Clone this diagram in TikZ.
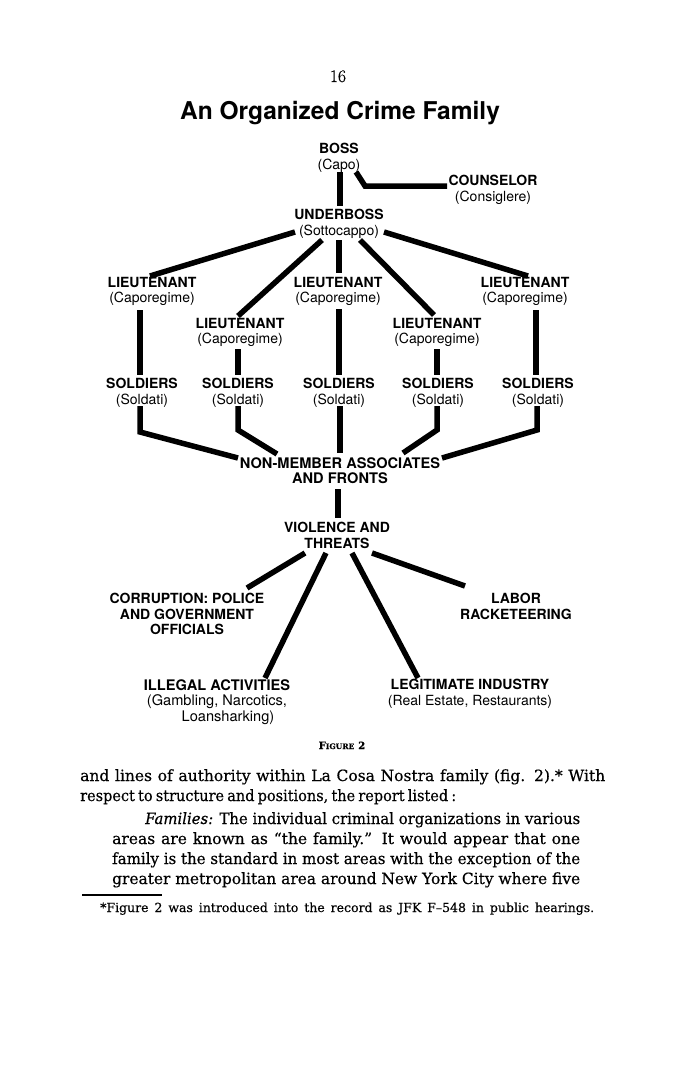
\documentclass[tikz,border=0pt]{standalone}
\usepackage{fontspec}
\usepackage{graphicx}
\setmainfont{DejaVu Serif}
\setsansfont{TeX Gyre Heros}
\newfontfamily\lmfont[FakeBold=0.6]{Latin Modern Roman}
\newfontfamily\bodyfont[FakeBold=0.4]{DejaVu Serif}
\newcommand{\lsub}[1]{{\mdseries #1}}
\newsavebox\jbox
\newcommand{\jline}[2]{\sbox\jbox{#2}\ifdim\wd\jbox>#1\relax\resizebox{#1}{\height}{\usebox\jbox}\else\makebox[#1][s]{#2}\fi}
\tikzset{
  lbl/.style={font=\sffamily\bfseries\fontsize{14}{15.5}\selectfont, align=center, inner sep=0pt, anchor=north},
  conn/.style={line width=5.5pt, line cap=butt, line join=miter},
  body/.style={font=\bodyfont\fontsize{15.5}{20}\selectfont, inner sep=0pt, anchor=base west},
}
\begin{document}
\begin{tikzpicture}[x=1pt,y=-1pt]
\fill[white] (0,0) rectangle (691,1081);
\useasboundingbox (0,0) rectangle (691,1081);

% header
\node[inner sep=0pt, anchor=base, font=\lmfont\fontsize{17.5}{17.5}\selectfont] (pg) at (338,82) {16};
\node[inner sep=0pt, anchor=base, font=\sffamily\bfseries\fontsize{24.5}{24.5}\selectfont] (title) at (340,119) {An Organized Crime Family};

% nodes
\node[lbl] (boss) at (339,143) {BOSS\\\lsub{(Capo)}};
\node[lbl] (couns) at (493,175) {COUNSELOR\\\lsub{(Consiglere)}};
\node[lbl] (ub) at (339,209) {UNDERBOSS\\\lsub{(Sottocappo)}};
\node[lbl] (l1) at (152,277) {LIEUTENANT\\\lsub{(Caporegime)}};
\node[lbl] (l2) at (240,318) {LIEUTENANT\\\lsub{(Caporegime)}};
\node[lbl] (l3) at (338,277) {LIEUTENANT\\\lsub{(Caporegime)}};
\node[lbl] (l4) at (437,318) {LIEUTENANT\\\lsub{(Caporegime)}};
\node[lbl] (l5) at (525,277) {LIEUTENANT\\\lsub{(Caporegime)}};
\node[lbl] (s1) at (142,378) {SOLDIERS\\\lsub{(Soldati)}};
\node[lbl] (s2) at (238,378) {SOLDIERS\\\lsub{(Soldati)}};
\node[lbl] (s3) at (339,378) {SOLDIERS\\\lsub{(Soldati)}};
\node[lbl] (s4) at (438,378) {SOLDIERS\\\lsub{(Soldati)}};
\node[lbl] (s5) at (538,378) {SOLDIERS\\\lsub{(Soldati)}};
\node[lbl, font=\sffamily\bfseries\fontsize{14.6}{15.5}\selectfont] (nma) at (340,457) {NON-MEMBER ASSOCIATES\\AND FRONTS};
\node[lbl] (vio) at (337,522) {VIOLENCE AND\\THREATS};
\node[lbl] (corr) at (187,593) {CORRUPTION: POLICE\\AND GOVERNMENT\\OFFICIALS};
\node[lbl] (labor) at (516,593) {LABOR\\RACKETEERING};
\node[lbl, font=\sffamily\bfseries\fontsize{14.6}{15.5}\selectfont] (ill) at (217,679) {ILLEGAL ACTIVITIES\\\lsub{(Gambling, Narcotics,}\\\lsub{\hspace*{22pt}Loansharking)}};
\node[lbl] (leg) at (470,679) {LEGITIMATE INDUSTRY\\\lsub{(Real Estate, Restaurants)}};

% connectors
\draw[conn] ([shift={(1,29)}]boss.north) -- ([shift={(1,-3)}]ub.north);
\draw[conn] ([shift={(17,29)}]boss.north) -- ++(9,14) -- ([shift={(-46,11)}]couns.north);
\draw[conn] ([shift={(-44,23)}]ub.north) -- ([shift={(-2,-1)}]l1.north);
\draw[conn] ([shift={(-17,31)}]ub.north) -- ([shift={(-2,-2)}]l2.north);
\draw[conn] ([shift={(0,31)}]ub.north) -- ([shift={(1,-4)}]l3.north);
\draw[conn] ([shift={(21,31)}]ub.north) -- ([shift={(-3,-3)}]l4.north);
\draw[conn] ([shift={(45,23)}]ub.north) -- ([shift={(3,-1)}]l5.north);

\draw[conn] ([shift={(-12,33)}]l1.north) -- ([shift={(-2,-3)}]s1.north);
\draw[conn] ([shift={(-2,31)}]l2.north) -- ([shift={(0,-3)}]s2.north);
\draw[conn] ([shift={(1,32)}]l3.north) -- ([shift={(0,-3)}]s3.north);
\draw[conn] ([shift={(0,31)}]l4.north) -- ([shift={(-1,-3)}]s4.north);
\draw[conn] ([shift={(11,33)}]l5.north) -- ([shift={(-2,-3)}]s5.north);

\draw[conn] ([shift={(-2,28)}]s1.north) -- ++(0,26) -- ([shift={(-102,1)}]nma.north);
\draw[conn] ([shift={(0,28)}]s2.north) -- ++(0,24) -- ([shift={(-63,-3)}]nma.north);
\draw[conn] ([shift={(1,28)}]s3.north) -- ([shift={(0,-4)}]nma.north);
\draw[conn] ([shift={(-1,28)}]s4.north) -- ++(0,24) -- ([shift={(63,-4)}]nma.north);
\draw[conn] ([shift={(-1,28)}]s5.north) -- ++(0,24) -- ([shift={(102,1)}]nma.north);

\draw[conn] ([shift={(-2,32)}]nma.north) -- ([shift={(1,-4)}]vio.north);
\draw[conn] ([shift={(-32,31)}]vio.north) -- ([shift={(60,-5)}]corr.north);
\draw[conn] ([shift={(-11,31)}]vio.north) -- ([shift={(48,-1)}]ill.north);
\draw[conn] ([shift={(15,31)}]vio.north) -- ([shift={(-52,-1)}]leg.north);
\draw[conn] ([shift={(35,31)}]vio.north) -- ([shift={(-51,-7)}]labor.north);

% caption
\node[inner sep=0pt, anchor=base, font=\bodyfont\bfseries] (fig) at (342,749) {{\fontsize{10}{10}\selectfont F}{\fontsize{7.5}{7.5}\selectfont IGURE}\hspace{4pt}{\fontsize{10}{10}\selectfont 2}};

% body text
\node[body] (t1) at (80,781) {\jline{525pt}{and lines of authority within La Cosa Nostra family (fig. 2).* With}};
\node[body] (t2) at (80,801) {\jline{376pt}{\spaceskip=0.22em plus 0.3em minus 0.05em\relax respect to structure and positions, the report listed :}};
\node[body] (t3) at (145,824) {\jline{435pt}{\textit{Families:} The individual criminal organizations in various}};
\node[body] (t4) at (112,844) {\jline{468pt}{areas are known as “the family.” It would appear that one}};
\node[body] (t5) at (112,864) {\jline{468pt}{family is the standard in most areas with the exception of the}};
\node[body] (t6) at (112,884) {\jline{468pt}{greater metropolitan area around New York City where five}};
\draw[line width=1.2pt] (82,895) -- (162,895);
\node[body, font=\bodyfont\fontsize{12.5}{14}\selectfont] (fn) at (100,912) {\jline{494pt}{*Figure 2 was introduced into the record as JFK F–548 in public hearings.}};
\end{tikzpicture}
\end{document}
